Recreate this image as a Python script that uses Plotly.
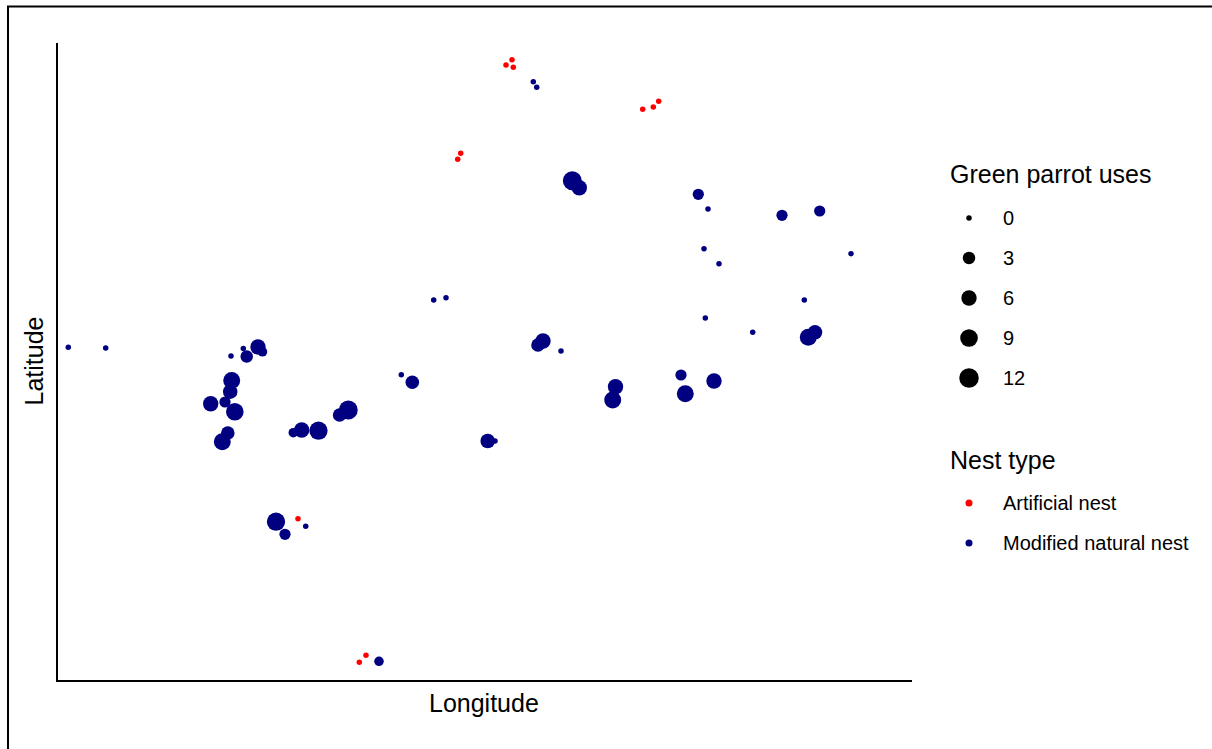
import plotly.graph_objects as go
import numpy as np

W, H = 1212, 749

# ---------------- data (relative longitude / latitude units) ----------------
art_lon = [454, 448, 455.3, 584.7, 595.3, 600.7, 402.7, 399.7, 240, 301.3, 308]
art_lat = [620.3, 615, 612.7, 570.7, 573, 578.7, 526.7, 520.7, 161.3, 17.7, 24.7]
art_uses = [0, 0, 0, 0, 0, 0, 0, 0, 0, 0, 0]

mod_lon = [475.3, 478.7, 514.3, 521.3, 640.3, 650, 724, 761.7, 646, 661, 793,
           375.7, 388, 746.3, 647.3, 694.7, 750.3, 757, 623, 656, 557.5, 554.7,
           627.3, 485, 480, 503, 429.7, 437, 10.3, 47.7, 173, 185.3, 188.7, 200,
           204.5, 173.7, 172.2, 152.7, 167, 176.8, 169.8, 164.3, 235.3, 243.7,
           260.5, 281.6, 290.3, 343.3, 354.3, 218, 227, 247.7, 321]
mod_lat = [598.3, 592.7, 499.3, 492.3, 485.7, 471, 464.7, 469, 431.3, 416.3, 426.3,
           380, 382.3, 380, 362, 347.7, 342.7, 347.7, 305, 299, 293.3, 280,
           286.3, 339, 335, 329, 239, 239, 332.7, 332, 324, 331.5, 323.5, 333,
           328.2, 299.5, 288.3, 276.3, 278, 268.2, 247, 238.3, 247.3, 250,
           249.3, 265, 270, 305.3, 297.7, 158.3, 145.7, 153.7, 18.7]
mod_uses = [0, 0, 11, 6, 2, 0, 2, 2, 0, 0, 0,
            0, 0, 0, 0, 0, 8, 5, 2, 6, 6, 8,
            8, 6, 4, 0, 5, 0, 0, 0, 0, 0, 3, 6,
            1, 8, 5, 6, 2, 9, 4, 8, 1, 6,
            10, 4, 11, 0, 4, 10, 2, 0, 1]

size_breaks = [0, 3, 6, 9, 12]
nest_types = ["Artificial nest", "Modified natural nest"]
nest_colors = ["#FF0000", "#000080"]

LON_RANGE = [0, 854]
LAT_RANGE = [0, 637]


def size_scale(u):
    u = np.asarray(u, dtype=float)
    return (5.5 + 14.0 * np.sqrt(u / 12.0)).tolist()


fig = go.Figure()

fig.add_trace(go.Scatter(
    x=art_lon, y=art_lat, mode="markers", name=nest_types[0],
    marker=dict(color=nest_colors[0], size=size_scale(art_uses), opacity=1,
                line=dict(width=0)),
    showlegend=False, xaxis="x", yaxis="y"))
fig.add_trace(go.Scatter(
    x=mod_lon, y=mod_lat, mode="markers", name=nest_types[1],
    marker=dict(color=nest_colors[1], size=size_scale(mod_uses), opacity=1,
                line=dict(width=0)),
    showlegend=False, xaxis="x", yaxis="y"))

# ---------------- custom legend (pixel overlay axis) ----------------
KEY_X = 969
LABEL_X = 1001
size_rows = [218 + 40 * i for i in range(len(size_breaks))]
type_rows = [503, 543]

fig.add_trace(go.Scatter(
    x=[KEY_X] * len(size_breaks), y=size_rows, mode="markers",
    marker=dict(color="#000000", size=size_scale(size_breaks), opacity=1,
                line=dict(width=0)),
    showlegend=False, hoverinfo="skip", xaxis="x2", yaxis="y2"))
fig.add_trace(go.Scatter(
    x=[KEY_X] * len(nest_types), y=type_rows, mode="markers",
    marker=dict(color=nest_colors, size=7, opacity=1, line=dict(width=0)),
    showlegend=False, hoverinfo="skip", xaxis="x2", yaxis="y2"))

FONT = "Liberation Sans, Arial, sans-serif"
ann = []


def add_text(txt, px, py, size, xanchor="left", angle=0):
    ann.append(dict(text=txt, x=px / W, y=1 - py / H, xref="paper", yref="paper",
                    xanchor=xanchor, yanchor="middle", showarrow=False,
                    textangle=angle, font=dict(family=FONT, size=size, color="black")))


add_text("Green parrot uses", 948, 174, 25)
for b, r in zip(size_breaks, size_rows):
    add_text(str(b), LABEL_X, r, 20)
add_text("Nest type", 948, 460, 25)
for t, r in zip(nest_types, type_rows):
    add_text(t, LABEL_X, r, 20)
add_text("Longitude", 484, 703, 25, xanchor="center")
add_text("Latitude", 33, 361.5, 25, xanchor="center", angle=-90)

# plot panel in pixels
PL, PR, PT, PB = 58, 912, 43, 680

fig.update_layout(
    width=W, height=H,
    margin=dict(l=0, r=0, t=0, b=0, pad=0),
    paper_bgcolor="white", plot_bgcolor="rgba(0,0,0,0)",
    showlegend=False,
    xaxis=dict(domain=[PL / W, PR / W], range=LON_RANGE, showline=True, linecolor="black",
               linewidth=2, showgrid=False, zeroline=False, showticklabels=False, ticks=""),
    yaxis=dict(domain=[1 - PB / H, 1 - PT / H], range=LAT_RANGE, showline=True, linecolor="black",
               linewidth=2, showgrid=False, zeroline=False, showticklabels=False, ticks=""),
    xaxis2=dict(domain=[0, 1], range=[0, W], visible=False, anchor="y2"),
    yaxis2=dict(domain=[0, 1], range=[H, 0], visible=False, anchor="x2"),
    annotations=ann,
    shapes=[dict(type="rect", xref="paper", yref="paper",
                 x0=8 / W, x1=1.05, y0=-0.05, y1=1 - 6.5 / H,
                 line=dict(color="black", width=2), fillcolor="rgba(0,0,0,0)")],
)

fig.write_html("out.html", config={"displayModeBar": False},
               post_script="document.body.style.margin='0';document.body.style.padding='0';")
